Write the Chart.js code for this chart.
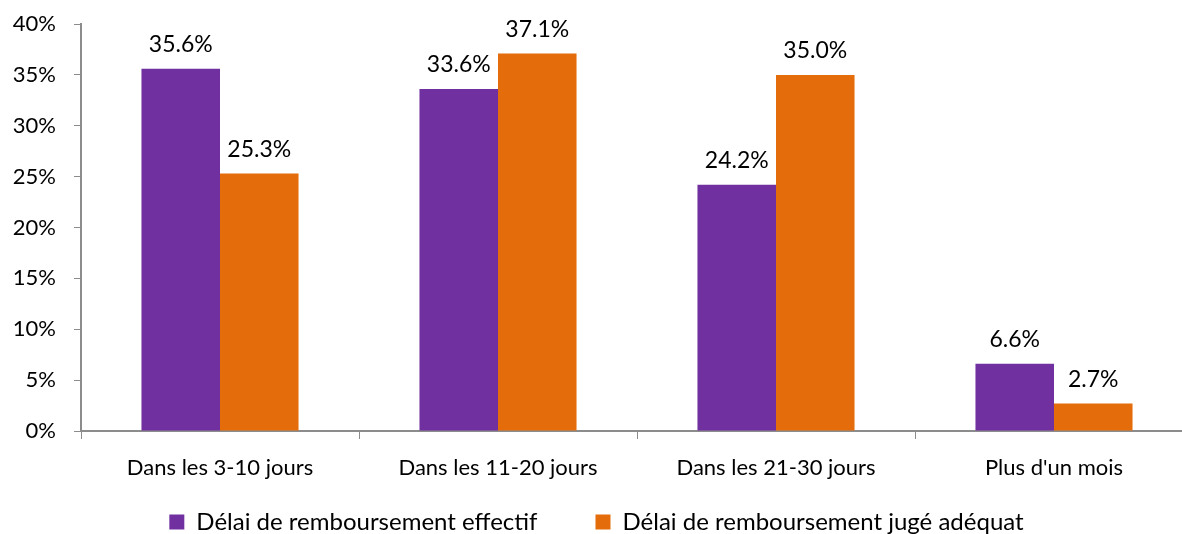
<!DOCTYPE html>
<html lang="fr">
  <head>
    <meta charset="utf-8">
    <title>Délai de remboursement</title>
    <script src="https://cdn.jsdelivr.net/npm/chart.js@4.4.0/dist/chart.umd.min.js"></script>
    <style>
      html, body { margin: 0; padding: 0; background: #fff; overflow: hidden; }
      #wrap { width: 1182px; height: 534px; overflow: hidden; }
    </style>
  </head>
  <body>
    <div id="wrap"><canvas id="chart" width="1196" height="534"></canvas></div>
    <script>
      var categories = ['Dans les 3-10 jours', 'Dans les 11-20 jours', 'Dans les 21-30 jours', "Plus d'un mois"];
      var effectif = [35.6, 33.6, 24.2, 6.6];
      var adequat = [25.3, 37.1, 35.0, 2.7];
      var seriesNames = ['Délai de remboursement effectif', 'Délai de remboursement jugé adéquat'];

      var fontFamily = "Lato, 'Open Sans', sans-serif";
      var fontSize = 22;

      // valeurs au-dessus des barres
      var valueLabels = {
        id: 'valueLabels',
        afterDatasetsDraw: function (chart) {
          var ctx = chart.ctx;
          ctx.save();
          ctx.font = '23px ' + fontFamily;
          ctx.fillStyle = '#000';
          ctx.textAlign = 'center';
          ctx.textBaseline = 'alphabetic';
          chart.data.datasets.forEach(function (ds, i) {
            chart.getDatasetMeta(i).data.forEach(function (bar, j) {
              ctx.fillText(ds.data[j].toFixed(1) + '%', bar.x, bar.y - 17);
            });
          });
          ctx.restore();
        }
      };

      new Chart(document.getElementById('chart'), {
        type: 'bar',
        data: {
          labels: categories,
          datasets: [{
            label: seriesNames[0],
            data: effectif,
            backgroundColor: '#7030A0'
          }, {
            label: seriesNames[1],
            data: adequat,
            backgroundColor: '#E46C0A'
          }]
        },
        options: {
          responsive: false,
          animation: false,
          layout: { padding: { top: 24, right: 3, left: 0, bottom: 0 } },
          datasets: { bar: { barPercentage: 1, categoryPercentage: 0.565 } },
          plugins: {
            tooltip: { enabled: false },
            legend: {
              position: 'bottom',
              maxHeight: 52,
              labels: {
                boxWidth: 15,
                boxHeight: 15,
                padding: 28,
                color: '#000',
                font: { family: fontFamily, size: 24, lineHeight: 1 },
                generateLabels: function (chart) {
                  var items = Chart.defaults.plugins.legend.labels.generateLabels(chart);
                  // un peu plus d'écart entre les deux entrées
                  items[0].text += '\u2003\u2002';
                  return items;
                }
              }
            }
          },
          scales: {
            x: {
              grid: { drawOnChartArea: false, color: '#8c8c8c', tickLength: 8, offset: true },
              border: { color: '#8c8c8c', width: 2 },
              ticks: { color: '#000', padding: 16, font: { family: fontFamily, size: fontSize } },
              afterFit: function (scale) { scale.height = 51; }
            },
            y: {
              min: 0,
              max: 40,
              grid: { drawOnChartArea: false, color: '#8c8c8c', tickLength: 7 },
              border: { color: '#8c8c8c', width: 2 },
              ticks: {
                stepSize: 5,
                color: '#000',
                padding: 18,
                font: { family: fontFamily, size: fontSize },
                callback: function (v) { return v + '%'; }
              },
              afterFit: function (scale) {
                scale.width = 81;
                scale.paddingTop = 0;
                scale.paddingBottom = 0;
              }
            }
          }
        },
        plugins: [valueLabels]
      });
    </script>
  </body>
</html>
